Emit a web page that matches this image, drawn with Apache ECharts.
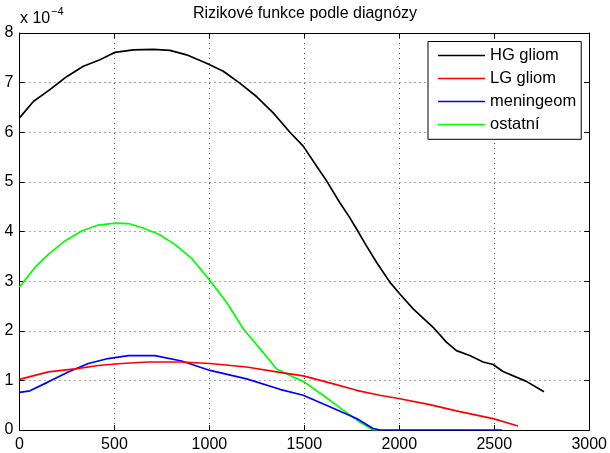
<!DOCTYPE html>
<html>
<head>
<meta charset="utf-8">
<script src="https://cdn.jsdelivr.net/npm/echarts@6/dist/echarts.min.js"></script>
<style>html,body{margin:0;padding:0;background:#fff}#c{width:610px;height:453px}</style>
</head>
<body>
<div id="c"></div>
<script>
// values in units of 1e-4
var hgX = [0, 73, 160, 248, 336, 424, 503, 599, 704, 792, 880, 985, 1073, 1160, 1248, 1336, 1424, 1494, 1564, 1617, 1687, 1739, 1775, 1827, 1880, 1950, 2003, 2073, 2178, 2248, 2301, 2371, 2441, 2494, 2546, 2669, 2762];
var hgY = [6.29, 6.62, 6.86, 7.12, 7.33, 7.46, 7.61, 7.66, 7.67, 7.65, 7.56, 7.39, 7.23, 6.99, 6.72, 6.39, 6.00, 5.72, 5.32, 5.02, 4.58, 4.28, 4.05, 3.71, 3.38, 2.98, 2.74, 2.44, 2.07, 1.77, 1.60, 1.50, 1.37, 1.32, 1.18, 0.98, 0.77];
var lgX = [0, 152, 292, 415, 538, 678, 854, 1003, 1196, 1371, 1494, 1634, 1775, 1897, 2003, 2160, 2318, 2494, 2625];
var lgY = [1.02, 1.17, 1.23, 1.30, 1.34, 1.37, 1.37, 1.34, 1.27, 1.16, 1.09, 0.95, 0.80, 0.70, 0.63, 0.51, 0.37, 0.23, 0.08];
var menX = [0, 55, 152, 257, 362, 467, 573, 713, 854, 1003, 1196, 1371, 1494, 1634, 1775, 1862, 1900, 2540];
var menY = [0.76, 0.79, 0.97, 1.17, 1.34, 1.44, 1.50, 1.50, 1.39, 1.20, 1.03, 0.82, 0.70, 0.47, 0.23, 0.03, 0, 0];
var ostX = [0, 82, 152, 239, 327, 415, 503, 573, 643, 731, 818, 906, 1003, 1091, 1178, 1266, 1354, 1424, 1494, 1599, 1704, 1792, 1862, 1890];
var ostY = [2.88, 3.28, 3.54, 3.81, 4.01, 4.13, 4.17, 4.16, 4.08, 3.95, 3.74, 3.46, 3.01, 2.57, 2.04, 1.64, 1.23, 1.10, 0.98, 0.70, 0.40, 0.16, 0.0, 0.0];
var seriesNames = ['HG gliom', 'LG gliom', 'meningeom', 'ostatní'];
var seriesColors = ['#000000', '#ff0000', '#0000ff', '#00ff00'];
var titleText = 'Rizikové funkce podle diagnózy';

function pairs(xs, ys) { return xs.map(function (x, i) { return [x, ys[i]]; }); }
var allData = [pairs(hgX, hgY), pairs(lgX, lgY), pairs(menX, menY), pairs(ostX, ostY)];

var font = 'Liberation Sans, Arial, Helvetica, sans-serif';
var gridLine = { show: true, lineStyle: { color: '#555', type: [1, 4], width: 1 } };
var tick = { show: true, inside: true, length: 5, lineStyle: { color: '#000' } };
var axLine = { show: true, onZero: false, lineStyle: { color: '#000', width: 1 } };
var plain = function (v) { return String(v); };

var chart = echarts.init(document.getElementById('c'), null, { renderer: 'canvas' });
chart.setOption({
  animation: false,
  backgroundColor: '#fff',
  title: { text: titleText, left: 305, textAlign: 'center', top: 6, padding: 0, textStyle: { fontFamily: font, fontSize: 16, fontWeight: 'normal', color: '#000' } },
  grid: { left: 19.5, right: 20.5, top: 33, bottom: 21.5, containLabel: false },
  legend: {
    orient: 'vertical', left: 428, top: 41.5,
    padding: [5.5, 5, 6.3, 10], itemGap: 6, itemWidth: 47, itemHeight: 14,
    borderColor: '#000', borderWidth: 1, backgroundColor: '#fff',
    textStyle: { fontFamily: font, fontSize: 16.5, color: '#000' },
    data: seriesNames.map(function (n) { return { name: n, icon: 'path://M0,50 L100,50 L100,53.5 L0,53.5 Z' }; })
  },
  xAxis: [
    { type: 'value', min: 0, max: 3000, interval: 500, position: 'bottom', axisLine: axLine, axisTick: tick, splitLine: gridLine,
      axisLabel: { color: '#000', fontFamily: font, fontSize: 16, margin: 7, formatter: plain } },
    { type: 'value', min: 0, max: 3000, interval: 500, position: 'top', axisLine: axLine, axisTick: tick, splitLine: { show: false }, axisLabel: { show: false } }
  ],
  yAxis: [
    { type: 'value', min: 0, max: 8, interval: 1, position: 'left', axisLine: axLine, axisTick: tick, splitLine: gridLine,
      axisLabel: { color: '#000', fontFamily: font, fontSize: 16, margin: 6, formatter: plain } },
    { type: 'value', min: 0, max: 8, interval: 1, position: 'right', axisLine: axLine, axisTick: tick, splitLine: { show: false }, axisLabel: { show: false } }
  ],
  graphic: [
    { type: 'text', left: 20, top: 11, style: { text: 'x 10', font: '16px ' + font, fill: '#000' } },
    { type: 'text', left: 51, top: 6, style: { text: '−4', font: '11px ' + font, fill: '#000' } }
  ],
  series: allData.map(function (d, i) {
    return { name: seriesNames[i], type: 'line', data: d, symbol: 'none', smooth: false,
      lineStyle: { color: seriesColors[i], width: 1.7 }, itemStyle: { color: seriesColors[i] }, z: 3 + (3 - i) };
  })
});
</script>
</body>
</html>
